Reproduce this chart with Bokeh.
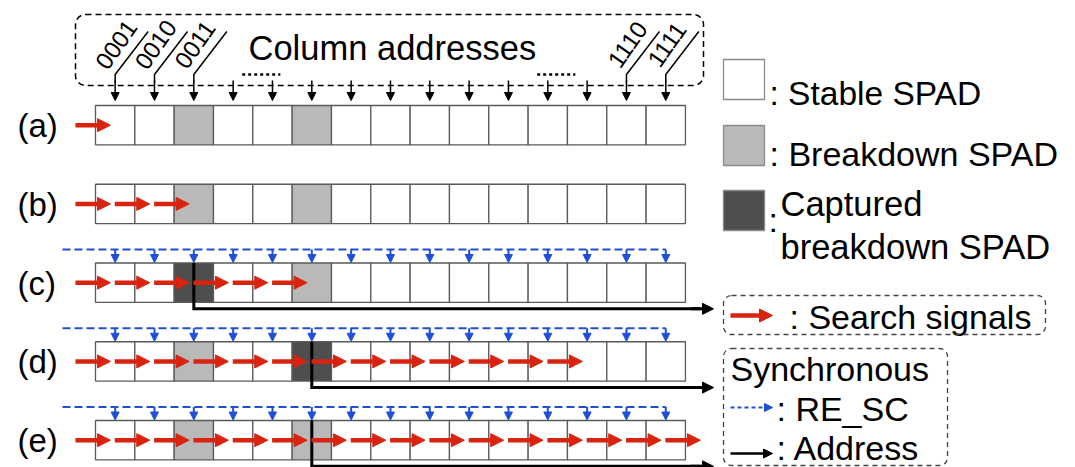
import math
from bokeh.plotting import figure
from bokeh.models import Range1d, Arrow, NormalHead, ColumnDataSource, BoxAnnotation
from bokeh.core.properties import value
from bokeh.embed import file_html
from bokeh.resources import INLINE

# ---------------- data ----------------
ROW_LABELS = ["(a)", "(b)", "(c)", "(d)", "(e)"]
N_COLS = 15
BREAKDOWN_COLS = [2, 5]
CAPTURED_COL = [None, None, 2, 5, None]
ADDRESS_COL = [None, None, 2, 5, 5]
SEARCH_ARROW_COUNT = [1, 3, 6, 13, 16]
HAS_RE_SC = [False, False, True, True, True]
ADDR_LABEL_COLS = [0, 1, 2, 13, 14]
ADDR_LABELS = ["0001", "0010", "0011", "1110", "1111"]
ELLIPSIS_SPANS = [(3.73, 4.70), (11.23, 12.20)]
TITLE = "Column addresses"
LEGEND_CELL_TEXTS = [": Stable SPAD", ": Breakdown SPAD"]
LEGEND_CAPTURED_LINES = ["Captured", "breakdown SPAD"]
LEGEND_SEARCH = ": Search signals"
LEGEND_SYNC = ["Synchronous", ": RE_SC", ": Address"]

# ---------------- style / layout ----------------
W, H = 1075, 467
X0, CW, Y0, RP = 95.0, 39.33, 105.0, 78.75
FONT = value("Liberation Sans")
RED = "#d9230f"
BLUE = "#1f4fd8"
STABLE, BREAK, CAPT = "#ffffff", "#b9b9b9", "#4e4e4e"
TY = -10.0  # alphabetic baseline correction


def cx(c):
    return X0 + CW * (c + 0.5)


def rtop(r):
    return Y0 + RP * r


p = figure(width=W, height=H, x_range=Range1d(0, W), y_range=Range1d(H, 0),
           output_backend="svg", toolbar_location=None, min_border=0,
           x_axis_location=None, y_axis_location=None)
p.grid.visible = False
p.outline_line_color = None
p.background_fill_color = "white"
p.border_fill_color = "white"


def add_arrows(xs, ys, xe, ye, color, width, head, dash="solid"):
    src = ColumnDataSource(dict(xs=xs, ys=ys, xe=xe, ye=ye))
    p.add_layout(Arrow(x_start="xs", y_start="ys", x_end="xe", y_end="ye", source=src,
                       line_color=color, line_width=width, line_dash=dash,
                       end=NormalHead(size=head, fill_color=color, line_color=color, line_width=1)))


def txt(x, y, t, size, angle=0.0, align="left", baseline="alphabetic", color="black"):
    dy = TY if baseline == "alphabetic" else 0.0
    p.text(x=[x], y=[y + dy], text=[t], text_font=FONT, text_font_size=value(f"{size}px"),
           angle=angle, text_align=align, text_baseline=baseline, text_color=color)


def dashed_box(l, r, t, b, rad, color, dash, width):
    p.add_layout(BoxAnnotation(left=l, right=r, top=t, bottom=b, border_radius=rad,
                               fill_color=None, fill_alpha=0, line_color=color, line_alpha=1.0,
                               line_dash=dash, line_width=width))


# ---------------- cells ----------------
L, R, T, B, F = [], [], [], [], []
for r in range(len(ROW_LABELS)):
    for c in range(N_COLS):
        L.append(X0 + CW * c)
        R.append(X0 + CW * (c + 1))
        T.append(rtop(r))
        B.append(rtop(r) + CW)
        if CAPTURED_COL[r] == c:
            F.append(CAPT)
        elif c in BREAKDOWN_COLS:
            F.append(BREAK)
        else:
            F.append(STABLE)
p.quad(left=L, right=R, top=T, bottom=B, fill_color=F, line_color="#5a5a5a", line_width=1.3)

# row labels
for r, lab in enumerate(ROW_LABELS):
    txt(17, rtop(r) + CW / 2 + 10.5, lab, 33)

# ---------------- address lines (black) ----------------
for r, c in enumerate(ADDRESS_COL):
    if c is None:
        continue
    yb = rtop(r) + CW + 6.5
    p.line(x=[cx(c), cx(c), 700], y=[rtop(r), yb, yb], line_color="black", line_width=3,
           line_join="miter")
    add_arrows([690], [yb], [713], [yb], "black", 3, 11)

# ---------------- RE_SC (blue) ----------------
for r, flag in enumerate(HAS_RE_SC):
    if not flag:
        continue
    ly = rtop(r) - 13.5
    p.line(x=[62, cx(N_COLS - 1)], y=[ly, ly], line_color=BLUE, line_width=2, line_dash="8 4")
    add_arrows([cx(c) for c in range(N_COLS)], [ly] * N_COLS,
               [cx(c) for c in range(N_COLS)], [rtop(r) - 0.5] * N_COLS, BLUE, 2, 8)

# ---------------- search signals (red) ----------------
xs, ys, xe = [], [], []
for r, n in enumerate(SEARCH_ARROW_COUNT):
    for k in range(n):
        xs.append(X0 + CW * (k - 0.51))
        xe.append(X0 + CW * (k + 0.38))
        ys.append(rtop(r) + CW / 2)
add_arrows(xs, ys, xe, ys, RED, 4.5, 13)

# ---------------- column addresses ----------------
dashed_box(75, 703, 14, 85, 10, "black", "6 4", 1.5)
txt(248, 57, TITLE, 34.5)
add_arrows([cx(c) for c in range(N_COLS)], [80] * N_COLS,
           [cx(c) for c in range(N_COLS)], [100] * N_COLS, "black", 1.5, 8)
for c, lab in zip(ADDR_LABEL_COLS, ADDR_LABELS):
    p.line(x=[cx(c) + 33, cx(c), cx(c)], y=[31, 74, 82], line_color="black", line_width=1.5)
    txt(cx(c) + 1, 44, lab, 24, angle=math.radians(55), align="center", baseline="middle")
for a, b in ELLIPSIS_SPANS:
    p.line(x=[X0 + CW * a, X0 + CW * b], y=[74, 74], line_color="black", line_width=2.5,
           line_dash="3 3")

# ---------------- legend ----------------
leg_tops = [59, 125, 190]
p.quad(left=[723] * 3, right=[764] * 3, top=leg_tops, bottom=[t + 40 for t in leg_tops],
       fill_color=[STABLE, BREAK, CAPT], line_color="#8a8a8a", line_width=1.3)
txt(769, 103, LEGEND_CELL_TEXTS[0], 33.5)
txt(769, 163, LEGEND_CELL_TEXTS[1], 34)
txt(768, 229, ":", 34)
txt(780, 213, LEGEND_CAPTURED_LINES[0], 34.5)
txt(780, 256, LEGEND_CAPTURED_LINES[1], 34.5)

dashed_box(723, 1045, 295, 334, 8, "#444444", "5 4", 1.3)
add_arrows([730], [315], [772], [315], RED, 4.5, 13)
txt(789, 326, LEGEND_SEARCH, 34)

dashed_box(723, 947, 348, 465, 8, "#444444", "5 4", 1.3)
txt(730, 378, LEGEND_SYNC[0], 34)
add_arrows([730], [407], [772], [407], BLUE, 2, 8, dash="4 3")
txt(776, 418, LEGEND_SYNC[1], 34)
add_arrows([730], [453], [772], [453], "black", 2.5, 9)
txt(776, 457, LEGEND_SYNC[2], 34)

open("out.html", "w").write(file_html(p, INLINE))
